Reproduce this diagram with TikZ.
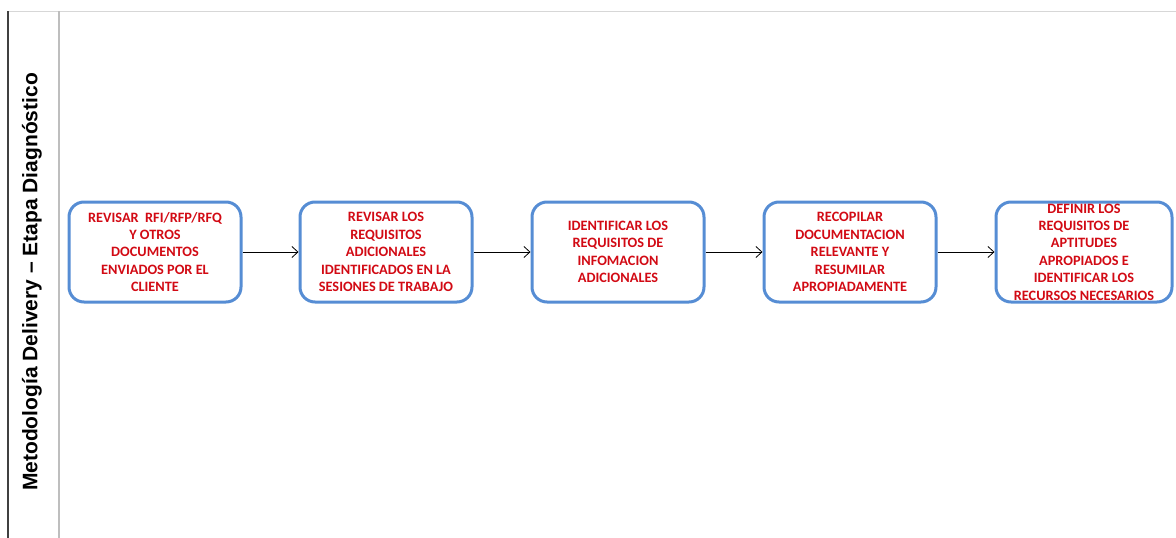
\documentclass[tikz,border=0pt]{standalone}
\usepackage{fontspec}
\setmainfont{Carlito}
\newfontfamily\arialfont{Liberation Sans}
\usetikzlibrary{arrows.meta}
\definecolor{boxblue}{RGB}{86,141,212}
\definecolor{txtred}{RGB}{210,10,20}
\definecolor{lanegray}{RGB}{190,190,190}
\definecolor{topgray}{RGB}{215,215,215}
\tikzset{
  stepbox/.style={draw=boxblue, line width=3pt, rounded corners=15pt, fill=white,
    minimum width=172pt, minimum height=100pt, align=center,
    text=txtred, font=\bfseries\fontsize{14.3}{17.4}\selectfont, inner sep=0pt},
  flow/.style={-{Straight Barb[length=6pt,width=11pt]}, line width=0.8pt, black}
}
\begin{document}
\begin{tikzpicture}[x=1pt,y=-1pt]
\useasboundingbox (0,0) rectangle (1176,538);
% swimlane frame
\draw[topgray, line width=1pt] (8,11) -- (1176,11);
\draw[black!75, line width=1.2pt] (8,11) -- (8,538);
\draw[lanegray, line width=1.5pt] (59,11) -- (59,538);
\node[rotate=90, font=\arialfont\bfseries\fontsize{21}{24}\selectfont] (lane) at (32,282)
  {Metodología Delivery – Etapa Diagnóstico};
% process steps
\begin{scope}
\clip (0,0) rectangle (1176,538);
\node[stepbox] (s1) at (155,252) {REVISAR\ \ RFI/RFP/RFQ\\Y OTROS\\DOCUMENTOS\\ENVIADOS POR EL\\CLIENTE};
\node[stepbox] (s2) at (386,252) {REVISAR LOS\\REQUISITOS\\ADICIONALES\\IDENTIFICADOS EN LA\\SESIONES DE TRABAJO};
\node[stepbox] (s3) at (618,252) {IDENTIFICAR LOS\\REQUISITOS DE\\INFOMACION\\ADICIONALES};
\node[stepbox] (s4) at (850,252) {RECOPILAR\\DOCUMENTACION\\RELEVANTE Y\\RESUMILAR\\APROPIADAMENTE};
\node[stepbox, minimum width=176pt] (s5) at (1084,252) {DEFINIR LOS\\REQUISITOS DE\\APTITUDES\\APROPIADOS E\\IDENTIFICAR LOS\\RECURSOS NECESARIOS};
\end{scope}
% connectors
\draw[flow] (s1) -- (s2);
\draw[flow] (s2) -- (s3);
\draw[flow] (s3) -- (s4);
\draw[flow] (s4) -- (s5);
\end{tikzpicture}
\end{document}
